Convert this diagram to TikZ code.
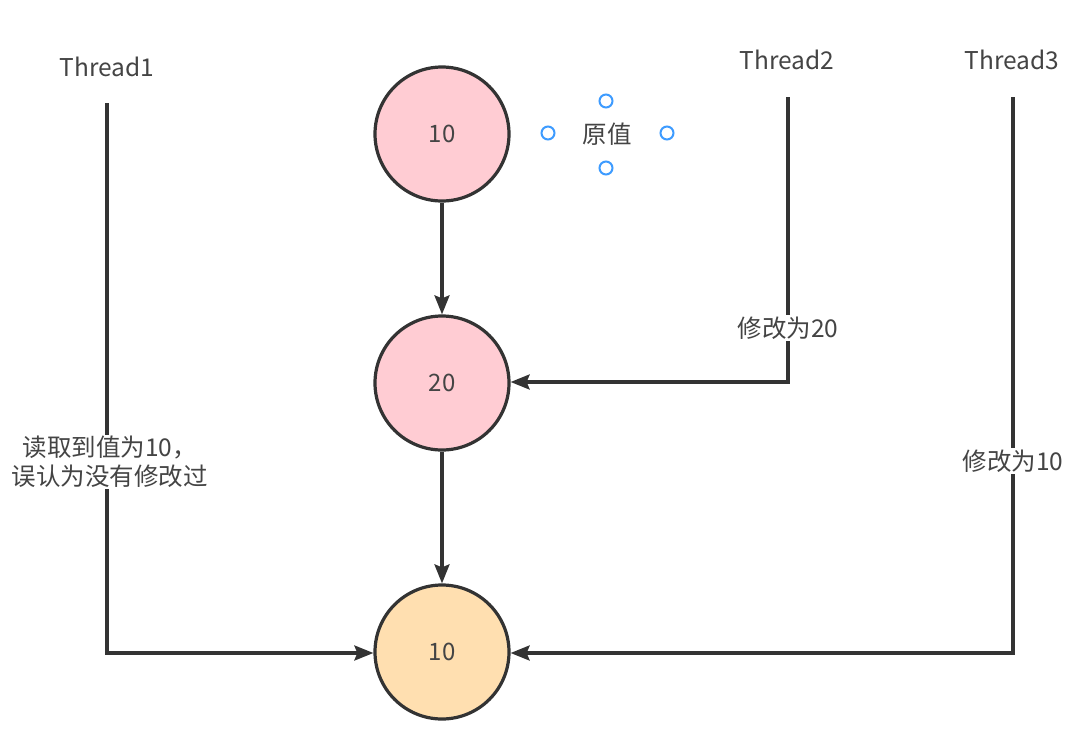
\documentclass[tikz,border=0pt]{standalone}
\usepackage{fontspec}
\setmainfont{Noto Sans CJK SC}
\usetikzlibrary{arrows.meta}
\definecolor{pinkfill}{HTML}{FFCCD3}
\definecolor{orangefill}{HTML}{FFDFB0}
\definecolor{strokec}{HTML}{333333}
\definecolor{textc}{HTML}{444444}
\definecolor{handle}{HTML}{3D9BFF}
\tikzset{
  valnode/.style={circle, draw=strokec, line width=3.2pt, minimum size=134pt, inner sep=0pt, font=\fontsize{24}{28}\selectfont, text=textc},
  lbl/.style={font=\fontsize{24.5}{29}\selectfont, text=textc, fill=white, inner sep=1.5pt, align=center},
  conn/.style={draw=strokec, line width=3.2pt, -{Stealth[length=19pt,width=15pt,inset=3pt]}},
  handlec/.style={circle, draw=handle, fill=white, line width=2pt, minimum size=13pt, inner sep=0pt}
}
\begin{document}
\begin{tikzpicture}[x=1pt,y=-1pt]
\useasboundingbox (0,0) rectangle (1088,734);
% circles
\node[valnode, fill=pinkfill] (v1) at (442,134) {10};
\node[valnode, fill=pinkfill] (v2) at (442,383) {20};
\node[valnode, fill=orangefill] (v3) at (442,652) {10};
% original value label and handles
\node[lbl] (orig) at (607,134) {原值};
\node[handlec] (h1) at (606,101) {};
\node[handlec] (h2) at (606,168) {};
\node[handlec] (h3) at (548,133) {};
\node[handlec] (h4) at (667,133) {};
% thread labels
\node[lbl] (t1) at (107,67) {Thread1};
\node[lbl] (t2) at (787,60) {Thread2};
\node[lbl] (t3) at (1012,60) {Thread3};
% line coordinates
\coordinate (s1) at (107,103);
\coordinate (c1) at (107,653);
\coordinate (s2) at (788,97);
\coordinate (c2) at (788,382);
\coordinate (s3) at (1013,97);
\coordinate (c3) at (1013,653);
% connectors
\draw[conn] (v1) -- (v2);
\draw[conn] (v2) -- (v3);
\draw[conn, line join=miter] (s1) -- (c1) -- (v3.west |- c1);
\draw[conn, line join=miter] (s2) -- (c2) -- (v2.east |- c2);
\draw[conn, line join=miter] (s3) -- (c3) -- (v3.east |- c3);
% edge labels
\node[lbl] (l1) at (110,462) {读取到值为10，\\误认为没有修改过};
\node[lbl] (l2) at (788,328) {修改为20};
\node[lbl] (l3) at (1013,461) {修改为10};
\end{tikzpicture}
\end{document}
